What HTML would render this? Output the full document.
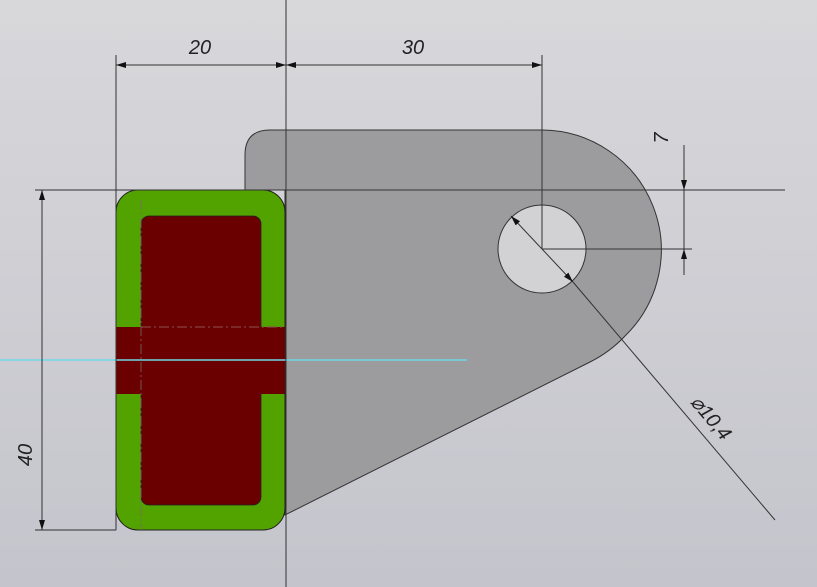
<!DOCTYPE html>
<html><head><meta charset="utf-8"><style>
html,body{margin:0;padding:0;width:817px;height:587px;overflow:hidden}
svg{display:block}
text{font-family:"Liberation Sans",sans-serif;font-style:italic;fill:#222}
</style></head><body>
<svg width="817" height="587" viewBox="0 0 817 587" xmlns="http://www.w3.org/2000/svg">
<defs>
<linearGradient id="bg" x1="0" y1="0" x2="0" y2="1">
<stop offset="0" stop-color="#d8d8db"/><stop offset="1" stop-color="#c4c4cc"/>
</linearGradient>
<marker id="a" viewBox="0 0 10 10" refX="10" refY="5" markerWidth="10" markerHeight="10" orient="auto-start-reverse" markerUnits="userSpaceOnUse"><path d="M0,2 L10,5 L0,8 Z" fill="#111"/></marker>
</defs>
<rect width="817" height="587" fill="url(#bg)"/>
<!-- plate -->
<path d="M270,130 L542,130 A120,120 0 0 1 625,336 Q610,352 590,362 L285,515 L285,190 L245,190 L245,155 Q245,130 270,130 Z" fill="#9c9c9e" stroke="#333" stroke-width="1"/>
<circle cx="542" cy="249" r="44" fill="#d2d2d5" stroke="#333" stroke-width="1"/>
<!-- green part -->
<rect x="116" y="190" width="169" height="340" rx="22" fill="#52a200" stroke="#222" stroke-width="1"/>
<rect x="141" y="216" width="120" height="289" rx="8" fill="#6b0000" stroke="#222" stroke-width="0.8"/>
<rect x="116" y="327" width="169" height="67" fill="#6b0000"/>
<line x1="141" y1="327" x2="285" y2="327" stroke="#8a5050" stroke-width="1" stroke-dasharray="10,3,2,3"/>
<line x1="141" y1="200" x2="141" y2="530" stroke="#7a6a6a" stroke-width="0.8" stroke-dasharray="10,3,2,3"/>
<!-- cyan -->
<line x1="0" y1="360" x2="467" y2="360" stroke="#6fd8e6" stroke-width="1.5"/>
<!-- construction lines -->
<g stroke="#333" stroke-width="1" fill="none">
<line x1="286" y1="0" x2="286" y2="587"/>
<line x1="116" y1="55" x2="116" y2="530"/>
<line x1="35" y1="190" x2="785" y2="190"/>
<line x1="35" y1="530" x2="116" y2="530"/>
<line x1="542" y1="55" x2="542" y2="249"/>
<line x1="542" y1="249" x2="692" y2="249"/>
<line x1="116" y1="65" x2="286" y2="65" marker-start="url(#a)" marker-end="url(#a)"/>
<line x1="286" y1="65" x2="542" y2="65" marker-start="url(#a)" marker-end="url(#a)"/>
<line x1="42" y1="190" x2="42" y2="530" marker-start="url(#a)" marker-end="url(#a)"/>
<line x1="684" y1="145" x2="684" y2="190" marker-end="url(#a)"/>
<line x1="684" y1="190" x2="684" y2="249"/>
<line x1="684" y1="275" x2="684" y2="249" marker-end="url(#a)"/>
<line x1="511" y1="216" x2="573" y2="282" marker-start="url(#a)" marker-end="url(#a)"/>
<line x1="573" y1="282" x2="775" y2="520"/>
</g>
<text x="200" y="54" font-size="20" text-anchor="middle">20</text>
<text x="413" y="54" font-size="20" text-anchor="middle">30</text>
<text x="0" y="0" font-size="20" text-anchor="middle" transform="translate(32,455) rotate(-90)">40</text>
<text x="0" y="0" font-size="20" text-anchor="middle" transform="translate(668,138) rotate(-90)">7</text>
<text x="0" y="0" font-size="20" text-anchor="middle" transform="translate(706,422) rotate(50)">⌀10,4</text>
</svg>
</body></html>
